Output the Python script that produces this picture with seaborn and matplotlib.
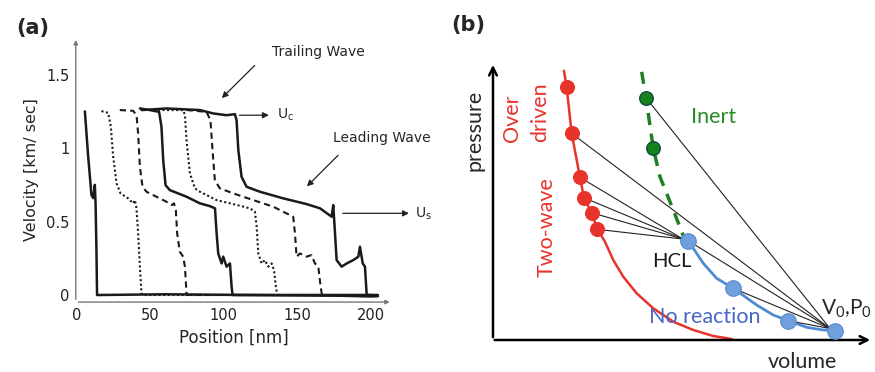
import numpy as np
import pandas as pd
import matplotlib.pyplot as plt
import seaborn as sns

# ---------- (a) velocity profiles ----------
c1_x = [5.3, 7.5, 9.8, 11.0, 12.1, 12.6, 13.2, 13.6, 15.0, 60.0, 120.0, 180.0, 200.0, 205.0]
c1_y = [1.25, 0.95, 0.68, 0.66, 0.75, 0.62, 0.30, 0.00, 0.0, 0.005, 0.0, -0.005, -0.01, -0.008]
c2_x = [16.6, 21.2, 23.0, 24.6, 26.9, 29.6, 34.8, 38.2, 39.4, 40.5, 41.6, 42.8, 43.9, 45.0, 205.0]
c2_y = [1.252, 1.240, 1.145, 0.941, 0.760, 0.692, 0.658, 0.624, 0.646, 0.590, 0.420, 0.193, 0.011, 0.0, 0.0]
c3_x = [29.1, 38.2, 40.5, 41.6, 42.8, 44.6, 47.3, 54.1, 60.9, 64.4, 66.0, 67.3, 68.2, 70.0, 72.3, 73.5, 74.6, 75.7, 205.0]
c3_y = [1.259, 1.254, 1.224, 1.100, 0.873, 0.737, 0.703, 0.669, 0.635, 0.612, 0.624, 0.578, 0.420, 0.295, 0.261, 0.193, 0.011, 0.0, 0.0]
c4_x = [42.8, 49.6, 55.9, 57.5, 58.7, 60.3, 63.2, 74.6, 83.7, 90.5, 94.0, 95.1, 96.2, 98.5, 99.6, 101.9, 104.2, 105.3, 106.0, 205.0]
c4_y = [1.270, 1.259, 1.247, 1.145, 0.918, 0.748, 0.714, 0.669, 0.624, 0.605, 0.590, 0.420, 0.283, 0.215, 0.261, 0.193, 0.215, 0.057, 0.0, 0.0]
c5_x = [51.9, 72.3, 73.5, 74.6, 76.9, 80.3, 83.7, 95.1, 106.4, 117.8, 121.2, 122.4, 123.5, 125.8, 128.0, 130.3, 132.6, 134.2, 135.5, 136.4, 205.0]
c5_y = [1.259, 1.259, 1.224, 1.054, 0.828, 0.726, 0.703, 0.646, 0.619, 0.590, 0.567, 0.465, 0.283, 0.215, 0.238, 0.193, 0.215, 0.170, 0.057, 0.0, 0.0]
c6_x = [74.6, 88.2, 90.9, 92.3, 93.9, 97.3, 106.4, 120.1, 133.7, 147.3, 148.5, 149.6, 151.9, 156.4, 159.8, 162.1, 164.4, 166.0, 166.9, 205.0]
c6_y = [1.259, 1.247, 1.190, 0.986, 0.782, 0.726, 0.692, 0.646, 0.601, 0.533, 0.420, 0.261, 0.283, 0.261, 0.272, 0.215, 0.193, 0.057, 0.0, 0.0]
c7_x = [43.9, 61.0, 83.7, 92.8, 101.9, 107.6, 108.7, 109.9, 112.1, 115.5, 124.6, 140.5, 156.4, 165.6, 173.5, 174.6,
        175.8, 176.9, 180.3, 183.8, 188.3, 191.7, 192.8, 194.7, 196.2, 197.4, 199.6, 205.0]
c7_y = [1.259, 1.270, 1.259, 1.236, 1.224, 1.231, 1.190, 0.986, 0.805, 0.737, 0.703, 0.658, 0.619, 0.590, 0.533, 0.612,
        0.420, 0.238, 0.193, 0.215, 0.238, 0.261, 0.329, 0.215, 0.193, 0.0, 0.0, -0.005]
curve_styles = ["solid", "dotted", "dashed", "solid", "dotted", "dashed", "solid"]

# ---------- (b) p-v schematic ----------
over_x = [71.0, 73.7, 78.7, 87.0, 91.0, 98.7, 104.3, 107.0, 112.0, 120.3, 130.3, 143.7, 160.3, 180.3, 200.3, 220.3, 238.7]
over_y = [269.3, 252.7, 206.7, 162.7, 142.3, 127.3, 110.7, 106.7, 98.3, 80.0, 63.3, 46.7, 31.7, 18.3, 10.0, 4.0, 1.0]
red_px = [73.7, 78.7, 87.0, 91.0, 98.7, 104.3]
red_py = [252.7, 206.7, 162.7, 142.3, 127.3, 110.7]
inert_x = [148.7, 153.0, 160.3, 167.0, 180.3, 192.0]
inert_y = [268.3, 242.3, 191.7, 163.3, 130.0, 100.0]
green_px = [153.0, 160.3]
green_py = [242.3, 191.7]
noreac_x = [195.3, 210.3, 223.7, 240.3, 263.7, 280.3, 295.3, 313.7, 330.3, 342.0]
noreac_y = [99.3, 76.7, 61.7, 51.7, 35.0, 25.0, 19.3, 12.7, 10.0, 9.3]
blue_px = [195.3, 240.3, 295.3, 342.0]
blue_py = [99.3, 51.7, 19.3, 9.3]
hcl_xy = (190.0, 101.0)
v0_xy = (337.0, 11.5)

sns.set_style("white")
plt.rcParams['font.family'] = ['DejaVu Sans']

fig = plt.figure(figsize=(8.75, 3.72), dpi=100)
ax1 = fig.add_axes([0.0866, 0.188, 0.362, 0.712])
ax2 = fig.add_axes([0.5634, 0.086, 0.4343, 0.747])

curves = [(c1_x, c1_y), (c2_x, c2_y), (c3_x, c3_y), (c4_x, c4_y), (c5_x, c5_y), (c6_x, c6_y), (c7_x, c7_y)]
for i, (cx, cy) in enumerate(curves):
    df = pd.DataFrame({'pos': cx, 'vel': cy})
    st = curve_styles[i]
    ls = {'solid': '-', 'dotted': (0, (1, 1.2)), 'dashed': (0, (3, 2))}[st]
    lw = 1.8 if st == 'solid' else 1.5
    sns.lineplot(data=df, x='pos', y='vel', ax=ax1, sort=False, color='#1a1a1a', lw=lw, linestyle=ls)

ax1.set_xlim(-0.9, 215)
ax1.set_ylim(-0.048, 1.755)
ax1.set_xticks([0, 50, 100, 150, 200])
ax1.set_xticklabels(['0', '50', '100', '150', '200'])
ax1.set_xticks([25, 75, 125, 175], minor=True)
ax1.set_yticks([0, 0.5, 1, 1.5])
ax1.set_yticklabels(['0', '0.5', '1', '1.5'])
ax1.set_yticks([0.25, 0.75, 1.25], minor=True)
for s in ax1.spines.values():
    s.set_visible(False)
ax1.tick_params(which='major', length=3, color='#888888', labelsize=10.5, labelcolor='#222222', direction='inout', pad=3)
ax1.tick_params(which='minor', length=2, color='#aaaaaa', direction='inout')
ax1.annotate('', xy=(0, 1), xytext=(0, 0), xycoords='axes fraction',
             arrowprops=dict(arrowstyle='-|>', color='#777777', lw=1, mutation_scale=6))
ax1.annotate('', xy=(1, 0), xytext=(0, 0), xycoords='axes fraction',
             arrowprops=dict(arrowstyle='-|>', color='#777777', lw=1, mutation_scale=6))
ax1.set_xlabel('Position [nm]', fontsize=12, labelpad=4)
ax1.set_ylabel('Velocity [km/ sec]', fontsize=11.5, labelpad=5)

arr = dict(arrowstyle='-|>', color='#222222', lw=0.9, mutation_scale=9)
ax1.text(164.4, 1.655, 'Trailing Wave', fontsize=10, ha='center', va='center')
ax1.annotate('', xy=(97.3, 1.327), xytext=(122.4, 1.576), arrowprops=arr)
ax1.annotate('', xy=(132.6, 1.224), xytext=(108.7, 1.224), arrowprops=arr)
ax1.text(136, 1.224, 'U$_\\mathregular{c}$', fontsize=10, ha='left', va='center')
ax1.text(174.5, 1.066, 'Leading Wave', fontsize=10, ha='left', va='center', clip_on=False)
ax1.annotate('', xy=(155.3, 0.726), xytext=(179.2, 0.964), arrowprops=arr)
ax1.annotate('', xy=(228.1, 0.556), xytext=(179.2, 0.556), arrowprops=arr, annotation_clip=False)
ax1.text(230.4, 0.556, 'U$_\\mathregular{s}$', fontsize=10, ha='left', va='center', clip_on=False)

# panel b
red = '#e8332b'
green = '#1f7f22'
blue_pt = '#6f9fdc'
blue_ln = '#4f8bd0'
sns.lineplot(x=over_x, y=over_y, ax=ax2, sort=False, color=red, lw=1.8)
sns.lineplot(x=inert_x, y=inert_y, ax=ax2, sort=False, color=green, lw=2.5, linestyle=(0, (3.5, 2.5)))
sns.lineplot(x=noreac_x, y=noreac_y, ax=ax2, sort=False, color=blue_ln, lw=2)

# Rayleigh lines
for k in range(2, 6):
    ax2.plot([red_px[k], hcl_xy[0]], [red_py[k], hcl_xy[1]], color='#222222', lw=0.8, zorder=3)
starts = [(green_px[0], green_py[0]), (red_px[1], red_py[1]), (blue_px[0], blue_py[0]),
          (blue_px[1], blue_py[1]), (blue_px[2], blue_py[2])]
for sx, sy in starts:
    ax2.plot([sx, v0_xy[0]], [sy, v0_xy[1]], color='#222222', lw=0.8, zorder=3)

sns.scatterplot(x=red_px, y=red_py, ax=ax2, s=100, color=red, edgecolor=red, zorder=4)
sns.scatterplot(x=green_px, y=green_py, ax=ax2, s=95, color='#17801f', edgecolor='#0d4d3a', lw=1, zorder=4)
sns.scatterplot(x=blue_px, y=blue_py, ax=ax2, s=125, color=blue_pt, edgecolor='#5b8fd0', zorder=4)

ax2.set_xlim(0, 380)
ax2.set_ylim(0, 278)
ax2.set_xticks([])
ax2.set_yticks([])
for s in ax2.spines.values():
    s.set_visible(False)
head = dict(arrowstyle='->', color='black', lw=1.8, mutation_scale=14)
ax2.annotate('', xy=(0, 1), xytext=(0, 0), xycoords='axes fraction', arrowprops=head)
ax2.annotate('', xy=(1, 0), xytext=(-0.003, 0), xycoords='axes fraction', arrowprops=head)

fb = ['Lato', 'DejaVu Sans']
fs = 15.5
ax2.text(-18, 210, 'pressure', rotation=90, fontsize=fs, ha='center', va='center', family=fb, clip_on=False)
ax2.text(309, -22, 'volume', fontsize=fs, ha='center', va='center', family=fb, clip_on=False)
ax2.text(18.7, 221.7, 'Over', rotation=90, fontsize=fs, color=red, ha='center', va='center', family=fb)
ax2.text(47, 228.3, 'driven', rotation=90, fontsize=fs, color=red, ha='center', va='center', family=fb)
ax2.text(53.7, 113.3, 'Two-wave', rotation=90, fontsize=fs, color=red, ha='center', va='center', family=fb)
ax2.text(220.3, 223.3, 'Inert', fontsize=fs, color='#2a8a2a', ha='center', va='center', family=fb)
ax2.text(178.7, 78.3, 'HCL', fontsize=fs - 1, color='#1a1a1a', ha='center', va='center', family=fb)
ax2.text(212, 23.3, 'No reaction', fontsize=fs, color='#4766c8', ha='center', va='center', family=fb, zorder=5)
ax2.text(353.7, 31.7, 'V$_\\mathregular{0}$,P$_\\mathregular{0}$', fontsize=fs - 0.5, ha='center', va='center', family=fb)

fig.text(0.0377, 0.925, '(a)', fontsize=15, fontweight='bold', ha='center', va='center')
fig.text(0.535, 0.933, '(b)', fontsize=15, fontweight='bold', ha='center', va='center')

fig.savefig('out.png', dpi=100)
